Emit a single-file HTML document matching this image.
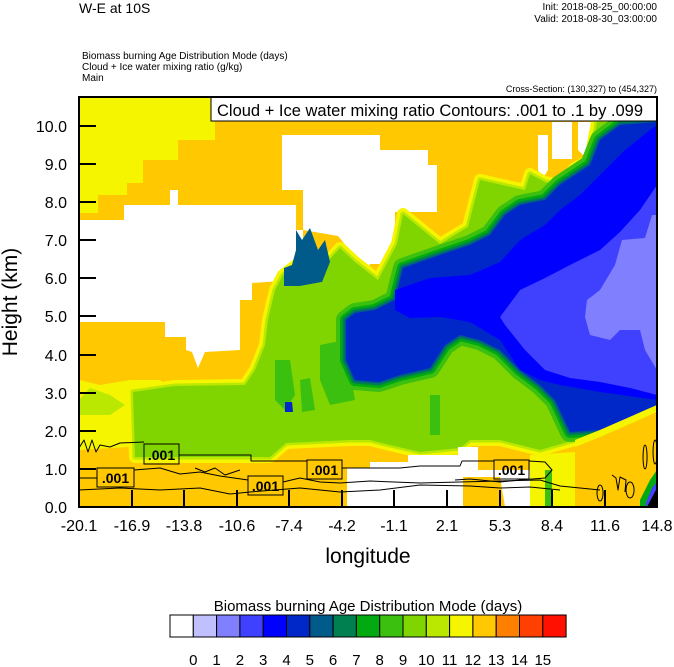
<!DOCTYPE html>
<html><head><meta charset="utf-8"><style>
html,body{margin:0;padding:0;background:#fff;}
svg{display:block;}
text{font-family:"Liberation Sans",sans-serif;fill:#000;}
</style></head><body>
<svg width="674" height="667" viewBox="0 0 674 667" xmlns="http://www.w3.org/2000/svg">
<defs><clipPath id="pc"><rect x="79" y="97" width="578" height="410"/></clipPath></defs>
<text x="79" y="13" font-size="14">W-E at 10S</text>
<text x="657" y="10" font-size="10" text-anchor="end">Init: 2018-08-25_00:00:00</text>
<text x="657" y="22" font-size="10" text-anchor="end">Valid: 2018-08-30_03:00:00</text>
<text x="82" y="59" font-size="10">Biomass burning Age Distribution Mode    (days)</text>
<text x="82" y="70" font-size="10">Cloud + Ice water mixing ratio    (g/kg)</text>
<text x="82" y="81" font-size="10">Main</text>
<text x="657" y="92" font-size="9" text-anchor="end">Cross-Section: (130,327) to (454,327)</text>

<g clip-path="url(#pc)">
<rect x="79" y="97" width="578" height="410" fill="#ffc800"/>
<polygon fill="#f5f500" points="79,97 215,97 215,140 178,140 178,160 143,160 143,183 127,183 127,195 98,195 98,213 79,213"/>
<polygon fill="#fff" points="79,220 124,220 124,205 170,205 170,190 178,190 178,205 296,205 296,230 303,230 303,250 296,280 252,283 252,300 240,300 240,350 205,352 198,368 192,352 186,350 186,337 165,337 165,322 79,322"/>
<polygon fill="#fff" points="282,135 380,135 380,150 428,150 428,165 437,165 437,212 395,212 395,240 403,250 400,264 370,264 362,282 352,280 348,248 338,236 303,230 303,190 282,190"/>
<polygon fill="#fff" points="552,122 572,122 572,159 552,159"/>
<polygon fill="#fff" points="578,122 597,122 597,157 588,160 578,150"/>
<polygon fill="#fff" points="538,135 548,135 548,170 543,178 538,170"/>
<polygon fill="#f5f500" points="79,410 79,380 100,385 130,380 160,380 175,392 200,395 240,395 250,420 240,440 79,450"/>
<polygon fill="#bbe800" points="79,400 90,388 110,395 125,405 110,415 79,415"/>
<g stroke-linejoin="round">
<polygon fill="#f5f500" stroke="#f5f500" stroke-width="12" points="135,457 133,392 175,386 245,385 255,370 265,345 268,320 275,290 283,275 300,262 320,270 340,248 355,262 378,280 397,244 403,214 440,244 468,227 480,180 525,190 530,174 545,182 560,185 575,168 590,160 597,122 657,122 657,400 600,430 575,440 540,450 500,440 470,440 460,448 420,452 390,445 370,440 350,440 286,443 270,457"/>
<polygon fill="#bbe800" stroke="#bbe800" stroke-width="5" points="135,457 133,392 175,386 245,385 255,370 265,345 268,320 275,290 283,275 300,262 320,270 340,248 355,262 378,280 397,244 403,214 440,244 468,227 480,180 525,190 530,174 545,182 560,185 575,168 590,160 597,122 657,122 657,400 600,430 575,440 540,450 500,440 470,440 460,448 420,452 390,445 370,440 350,440 286,443 270,457"/>
<polygon fill="#80d400" points="135,457 133,392 175,386 245,385 255,370 265,345 268,320 275,290 283,275 300,262 320,270 340,248 355,262 378,280 397,244 403,214 440,244 468,227 480,180 525,190 530,174 545,182 560,185 575,168 590,160 597,122 657,122 657,400 600,430 575,440 540,450 500,440 470,440 460,448 420,452 390,445 370,440 350,440 286,443 270,457"/>
<polygon fill="#3cc010" points="275,360 290,360 295,395 285,410 275,400"/>
<polygon fill="#3cc010" points="300,380 310,378 315,410 302,412"/>
<polygon fill="#3cc010" points="320,345 345,340 355,400 330,405 320,380"/>
<polygon fill="#3cc010" points="430,395 440,395 440,435 430,435"/>
<polygon fill="#3cc010" stroke="#3cc010" stroke-width="20" points="346,320 355,313 375,310 395,300 403,268 440,255 470,245 490,235 505,215 520,205 545,200 560,185 575,175 590,165 600,140 620,125 657,122 657,425 600,430 570,432 555,400 540,385 520,370 500,350 480,340 460,335 445,345 430,368 400,375 379,382 355,380 346,360"/>
<polygon fill="#00aa10" stroke="#00aa10" stroke-width="12" points="346,320 355,313 375,310 395,300 403,268 440,255 470,245 490,235 505,215 520,205 545,200 560,185 575,175 590,165 600,140 620,125 657,122 657,425 600,430 570,432 555,400 540,385 520,370 500,350 480,340 460,335 445,345 430,368 400,375 379,382 355,380 346,360"/>
<polygon fill="#008050" stroke="#008050" stroke-width="7" points="346,320 355,313 375,310 395,300 403,268 440,255 470,245 490,235 505,215 520,205 545,200 560,185 575,175 590,165 600,140 620,125 657,122 657,425 600,430 570,432 555,400 540,385 520,370 500,350 480,340 460,335 445,345 430,368 400,375 379,382 355,380 346,360"/>
<polygon fill="#005a8a" stroke="#005a8a" stroke-width="3" points="346,320 355,313 375,310 395,300 403,268 440,255 470,245 490,235 505,215 520,205 545,200 560,185 575,175 590,165 600,140 620,125 657,122 657,425 600,430 570,432 555,400 540,385 520,370 500,350 480,340 460,335 445,345 430,368 400,375 379,382 355,380 346,360"/>
<polygon fill="#0028c8" points="346,320 355,313 375,310 395,300 403,268 440,255 470,245 490,235 505,215 520,205 545,200 560,185 575,175 590,165 600,140 620,125 657,122 657,425 600,430 570,432 555,400 540,385 520,370 500,350 480,340 460,335 445,345 430,368 400,375 379,382 355,380 346,360"/>
<polygon fill="#0000ff" points="395,290 430,278 470,275 500,262 520,240 545,225 560,210 580,195 600,175 625,150 650,130 657,125 657,400 600,392 560,385 540,380 520,370 500,340 470,322 440,317 410,318 395,310"/>
<polygon fill="#4040ff" points="500,317 520,290 545,278 570,265 600,250 620,232 640,210 657,185 657,395 630,388 600,382 570,378 545,370 525,350 505,325"/>
<polygon fill="#8080ff" points="587,300 600,290 615,265 622,240 645,238 652,215 657,215 657,370 645,350 640,330 620,330 610,340 590,335 585,317"/>
<polygon fill="#005a8a" points="296,230 302,240 310,228 318,250 325,240 330,262 322,282 300,286 284,286 284,268 292,265 296,250"/>
<polygon fill="#80d400" points="284,286 300,286 322,282 330,300 330,317 284,317"/>
<polygon fill="#0028c8" points="285,402 292,402 293,412 285,412"/>
<polygon fill="#fff" points="370,462 408,462 408,455 458,455 458,447 478,447 478,470 530,470 530,507 347,507 347,468 370,468"/>
<polygon fill="#ffc800" points="463,477 500,477 505,507 463,507"/>
<polygon fill="#f5f500" points="530,455 575,452 575,507 530,507"/>
<polygon fill="#3cc010" points="545,470 552,470 552,507 545,507"/>
<polygon fill="#ffc800" points="575,440 600,430 657,405 657,507 575,507"/>
<polygon fill="#f5f500" points="575,440 600,430 657,405 657,412 600,437 575,447"/>
<polygon fill="#00aa10" points="640,500 650,480 657,470 657,507 640,507"/>
<polygon fill="#4040ff" points="645,505 652,488 657,482 657,507"/>
<polygon fill="#000" points="647,507 657,488 657,507"/>
<g fill="none" stroke="#000" stroke-width="1">
<path d="M79,448 L84,440 L88,452 L92,440 L96,452 L100,445 L110,447 L120,443 L144,442"/>
<path d="M179,455 L251,455 L251,461 L307,461"/>
<path d="M342,468 L400,468 L420,466 L460,466 L462,461 L494,461"/>
<path d="M529,461 L545,462 L552,470 L545,478 L520,480 L500,482 L470,479 L455,480"/>
<path d="M79,478 L97,478"/>
<path d="M134,470 L160,468 L180,474 L200,472 L220,476 L248,480"/>
<path d="M283,482 L300,478 L320,482 L340,483 L370,481 L420,483 L500,481 L540,480 L560,486 L600,490"/>
<path d="M79,490 L120,488 L160,490 L200,488 L230,494 L250,492 L300,488 L340,492 L380,490 L420,485 L470,486 L500,488 L530,487 L560,490"/>
<path d="M195,468 L205,472 L215,468 L225,475 L240,470"/>
<path d="M600,485 a3,8 0 1,0 0.1,0 M612,475 L616,478 L618,490 L620,477 L626,480 L625,492 M630,482 a4,8 0 1,0 0.1,0 M645,445 a2,12 0 1,0 0.1,0 M655,440 a2,12 0 1,0 0.1,0"/>
</g>
</g>
</g>
<g font-size="14" font-weight="bold">
<rect x="144" y="444" width="35" height="20" fill="none" stroke="#000"/><text x="161.5" y="460" text-anchor="middle">.001</text>
<rect x="97" y="468" width="37" height="19" fill="none" stroke="#000"/><text x="115.5" y="483" text-anchor="middle">.001</text>
<rect x="248" y="476" width="35" height="19" fill="none" stroke="#000"/><text x="265.5" y="491" text-anchor="middle">.001</text>
<rect x="307" y="460" width="35" height="19" fill="none" stroke="#000"/><text x="324.5" y="475" text-anchor="middle">.001</text>
<rect x="494" y="460" width="35" height="19" fill="none" stroke="#000"/><text x="511.5" y="475" text-anchor="middle">.001</text>
</g>
<rect x="211" y="97" width="446" height="24" fill="#fff" stroke="#000" stroke-width="1"/>
<text x="217" y="116" font-size="16.5">Cloud + Ice water mixing ratio Contours: .001 to .1 by .099</text>
<rect x="79" y="97" width="578" height="410" fill="none" stroke="#000" stroke-width="2"/>
<g stroke="#000" stroke-width="2">
<line x1="79" y1="507" x2="96" y2="507"/><line x1="79" y1="469" x2="96" y2="469"/><line x1="79" y1="431" x2="96" y2="431"/><line x1="79" y1="393" x2="96" y2="393"/><line x1="79" y1="355" x2="96" y2="355"/><line x1="79" y1="316" x2="96" y2="316"/><line x1="79" y1="278" x2="96" y2="278"/><line x1="79" y1="240" x2="96" y2="240"/><line x1="79" y1="202" x2="96" y2="202"/><line x1="79" y1="164" x2="96" y2="164"/><line x1="79" y1="126" x2="96" y2="126"/>
<line x1="132" y1="507" x2="132" y2="490"/><line x1="184" y1="507" x2="184" y2="490"/><line x1="237" y1="507" x2="237" y2="490"/><line x1="289" y1="507" x2="289" y2="490"/><line x1="342" y1="507" x2="342" y2="490"/><line x1="394" y1="507" x2="394" y2="490"/><line x1="447" y1="507" x2="447" y2="490"/><line x1="500" y1="507" x2="500" y2="490"/><line x1="552" y1="507" x2="552" y2="490"/><line x1="605" y1="507" x2="605" y2="490"/>
</g>
<g font-size="16" text-anchor="end">
<text x="67" y="513">0.0</text><text x="67" y="475">1.0</text><text x="67" y="437">2.0</text><text x="67" y="399">3.0</text><text x="67" y="361">4.0</text><text x="67" y="322">5.0</text><text x="67" y="284">6.0</text><text x="67" y="246">7.0</text><text x="67" y="208">8.0</text><text x="67" y="170">9.0</text><text x="67" y="132">10.0</text>
</g>
<g font-size="16" text-anchor="middle">
<text x="79" y="531">-20.1</text><text x="132" y="531">-16.9</text><text x="184" y="531">-13.8</text><text x="237" y="531">-10.6</text><text x="289" y="531">-7.4</text><text x="342" y="531">-4.2</text><text x="394" y="531">-1.1</text><text x="447" y="531">2.1</text><text x="500" y="531">5.3</text><text x="552" y="531">8.4</text><text x="605" y="531">11.6</text><text x="657" y="531">14.8</text>
</g>
<text x="368" y="563" font-size="21" text-anchor="middle">longitude</text>
<text transform="translate(17,302) rotate(-90)" font-size="21" text-anchor="middle">Height (km)</text>
<text x="368" y="611" font-size="15" text-anchor="middle">Biomass burning Age Distribution Mode  (days)</text>
<g stroke="#000" stroke-width="1">
<rect x="170" y="615" width="23.3" height="22" fill="#fff"/>
<rect x="193.3" y="615" width="23.3" height="22" fill="#c0c0ff"/>
<rect x="216.6" y="615" width="23.3" height="22" fill="#8080ff"/>
<rect x="239.9" y="615" width="23.3" height="22" fill="#4040ff"/>
<rect x="263.2" y="615" width="23.3" height="22" fill="#0000ff"/>
<rect x="286.5" y="615" width="23.3" height="22" fill="#0028c8"/>
<rect x="309.8" y="615" width="23.3" height="22" fill="#005a8a"/>
<rect x="333.1" y="615" width="23.3" height="22" fill="#008050"/>
<rect x="356.4" y="615" width="23.3" height="22" fill="#00aa10"/>
<rect x="379.7" y="615" width="23.3" height="22" fill="#3cc010"/>
<rect x="403" y="615" width="23.3" height="22" fill="#80d400"/>
<rect x="426.3" y="615" width="23.3" height="22" fill="#bbe800"/>
<rect x="449.6" y="615" width="23.3" height="22" fill="#f5f500"/>
<rect x="472.9" y="615" width="23.3" height="22" fill="#ffc800"/>
<rect x="496.2" y="615" width="23.3" height="22" fill="#ff8000"/>
<rect x="519.5" y="615" width="23.3" height="22" fill="#ff4000"/>
<rect x="542.8" y="615" width="23.3" height="22" fill="#ff1000"/>
</g>
<g font-size="15" text-anchor="middle">
<text x="193.3" y="665">0</text><text x="216.6" y="665">1</text><text x="239.9" y="665">2</text><text x="263.2" y="665">3</text><text x="286.5" y="665">4</text><text x="309.8" y="665">5</text><text x="333.1" y="665">6</text><text x="356.4" y="665">7</text><text x="379.7" y="665">8</text><text x="403" y="665">9</text><text x="426.3" y="665">10</text><text x="449.6" y="665">11</text><text x="472.9" y="665">12</text><text x="496.2" y="665">13</text><text x="519.5" y="665">14</text><text x="542.8" y="665">15</text>
</g>
</svg>
</body></html>
